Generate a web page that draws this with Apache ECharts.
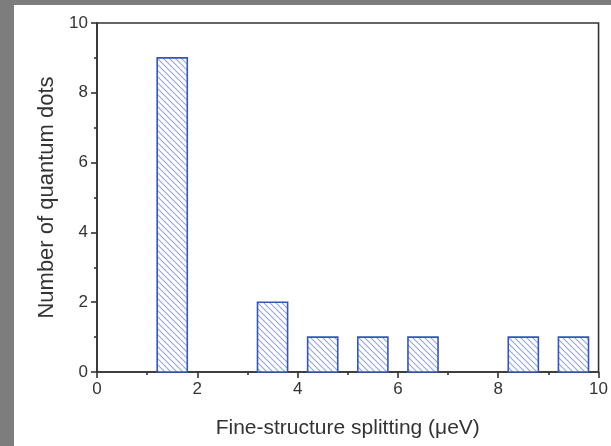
<!DOCTYPE html>
<html>
<head>
<meta charset="utf-8">
<script src="https://cdn.jsdelivr.net/npm/echarts@6/dist/echarts.min.js"></script>
<style>
  html, body { margin: 0; padding: 0; background: #7d7d7d; width: 611px; height: 446px; overflow: hidden; }
  #chart { position: absolute; left: 14px; top: 5px; width: 597px; height: 441px; background: #ffffff; }
</style>
</head>
<body>
<div id="chart"></div>
<script>
// Histogram bins of fine-structure splitting (µeV) and number of dots in each
const binStart = [1.2, 3.2, 4.2, 5.2, 6.2, 8.2, 9.2];
const binEnd   = [1.8, 3.8, 4.8, 5.8, 6.8, 8.8, 9.8];
const counts   = [9, 2, 1, 1, 1, 1, 1];

const xTicks = [0, 2, 4, 6, 8, 10];
const yTicks = [0, 2, 4, 6, 8, 10];

// Diagonal hatch used to fill the bars
function hatchPattern() {
  const c = document.createElement('canvas');
  const s = 6;
  c.width = s; c.height = s;
  const ctx = c.getContext('2d');
  ctx.fillStyle = '#ffffff';
  ctx.fillRect(0, 0, s, s);
  ctx.strokeStyle = '#95a4d8';
  ctx.lineWidth = 1.1;
  ctx.beginPath();
  ctx.moveTo(-1, -1); ctx.lineTo(s + 1, s + 1);
  ctx.moveTo(-1 - s, -1); ctx.lineTo(1, s + 1);
  ctx.moveTo(s - 1, -1); ctx.lineTo(2 * s + 1, s + 1);
  ctx.stroke();
  return c;
}

const data = binStart.map((b, i) => [b, binEnd[i], counts[i]]);
const font = '"Liberation Sans", Arial, sans-serif';
const axisColor = '#333333';

const chart = echarts.init(document.getElementById('chart'), null, { renderer: 'canvas' });
chart.setOption({
  animation: false,
  backgroundColor: '#ffffff',
  grid: {
    left: 83, right: 10, top: 18, bottom: 74,
    show: true, borderColor: axisColor, borderWidth: 1.6, backgroundColor: 'transparent'
  },
  xAxis: {
    type: 'value', min: 0, max: 10, interval: 2,
    name: 'Fine-structure splitting (\u03BCeV)',
    nameLocation: 'middle', nameGap: 46,
    nameTextStyle: { fontFamily: font, fontSize: 21, color: '#333' },
    axisLine: { show: true, lineStyle: { color: axisColor, width: 1.6 } },
    axisTick: { show: true, length: 6, lineStyle: { color: axisColor, width: 1.6 } },
    minorTick: { show: true, splitNumber: 2, length: 3, lineStyle: { color: axisColor, width: 1.6 } },
    axisLabel: {
      fontFamily: font, fontSize: 17, color: '#333', margin: 9,
      formatter: v => xTicks.includes(v) ? String(v) : ''
    },
    splitLine: { show: false }
  },
  yAxis: {
    type: 'value', min: 0, max: 10, interval: 2,
    name: 'Number of quantum dots',
    nameLocation: 'middle', nameGap: 39,
    nameTextStyle: { fontFamily: font, fontSize: 22, color: '#333' },
    axisLine: { show: true, lineStyle: { color: axisColor, width: 1.6 } },
    axisTick: { show: true, length: 6, lineStyle: { color: axisColor, width: 1.6 } },
    minorTick: { show: true, splitNumber: 2, length: 3, lineStyle: { color: axisColor, width: 1.6 } },
    axisLabel: {
      fontFamily: font, fontSize: 17, color: '#333', margin: 9,
      formatter: v => yTicks.includes(v) ? String(v) : ''
    },
    splitLine: { show: false }
  },
  series: [{
    type: 'custom',
    data: data,
    encode: { x: [0, 1], y: 2 },
    renderItem: function (params, api) {
      const p0 = api.coord([api.value(0), api.value(2)]);
      const p1 = api.coord([api.value(1), 0]);
      return {
        type: 'rect',
        shape: { x: p0[0], y: p0[1], width: p1[0] - p0[0], height: p1[1] - p0[1] },
        style: {
          fill: { image: hatchPattern(), repeat: 'repeat' },
          stroke: '#3556b4',
          lineWidth: 1.6
        }
      };
    }
  }]
});
</script>
</body>
</html>
